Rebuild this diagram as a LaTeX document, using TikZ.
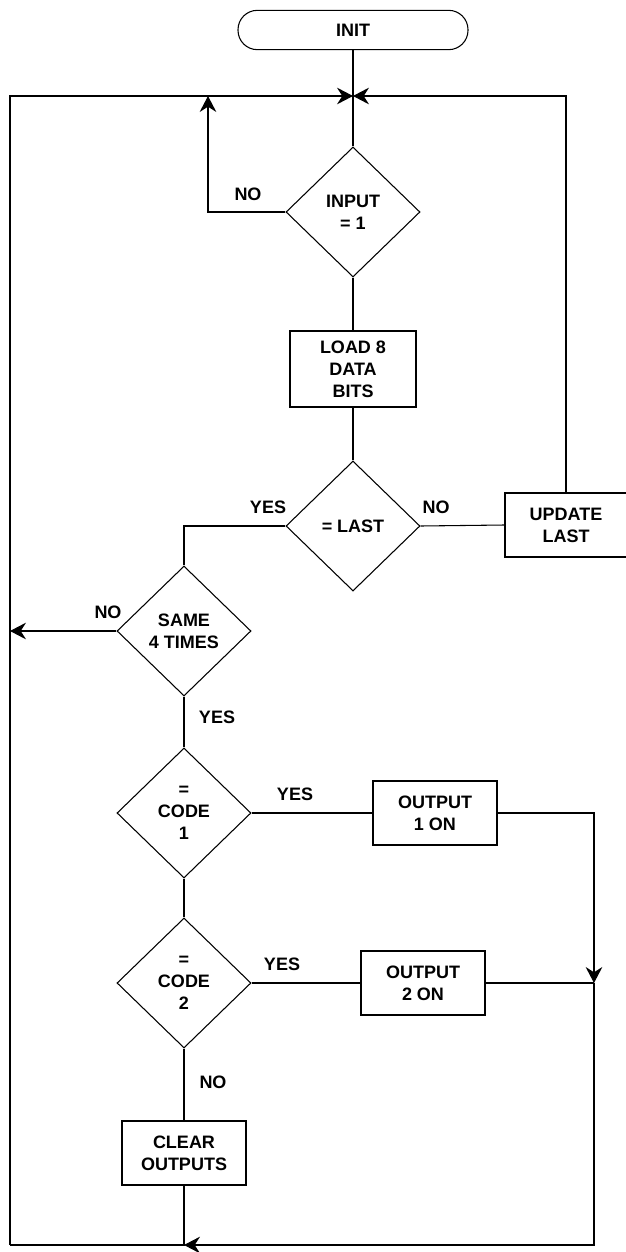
\documentclass[tikz,border=0pt]{standalone}
\usepackage{fontspec}
\setmainfont{Liberation Sans}
\usetikzlibrary{shapes.geometric,arrows.meta}
\begin{document}
\begin{tikzpicture}[x=0.75pt,y=-0.75pt,
  every node/.style={font=\fontsize{13.5}{16.5}\selectfont\bfseries, align=center},
  line/.style={line width=0.8pt},
  arr/.style={line width=0.8pt,-{Stealth[length=12pt,width=12.5pt,inset=4pt]}},
  decision/.style={draw, line width=0.8pt, diamond, aspect=1, inner sep=0pt, minimum width=100.5pt, minimum height=97.5pt},
  procbox/.style={draw, line width=0.8pt, rectangle, inner sep=0pt, minimum width=93pt, minimum height=48pt},
  terminal/.style={draw, line width=0.8pt, rectangle, rounded corners=14.5pt, minimum width=172.5pt, minimum height=29.5pt, inner sep=0pt},
  lbl/.style={inner sep=0pt}]
\useasboundingbox (0,0) rectangle (625,1252);
\fill[white] (0,0) rectangle (625,1252);
% nodes
\node[terminal] (init) at (353,30) {INIT};
\node[decision] (in1) at (353,212) {INPUT\\= 1};
\node[procbox, minimum width=94.5pt, minimum height=57pt] (load) at (353,369) {LOAD 8\\DATA\\BITS};
\node[decision] (last) at (353,526) {= LAST};
\node[procbox, minimum width=91.5pt] (upd) at (566,525) {UPDATE\\LAST};
\node[decision] (same) at (184,631) {SAME\\4 TIMES};
\node[decision] (c1) at (184,813) {=\\CODE\\1};
\node[decision] (c2) at (184,983) {=\\CODE\\2};
\node[procbox] (o1) at (435,813) {OUTPUT\\1 ON};
\node[procbox] (o2) at (423,983) {OUTPUT\\2 ON};
\node[procbox] (clr) at (184,1153) {CLEAR\\OUTPUTS};
% junction coordinates
\coordinate (tm) at (353,96);
\coordinate (tl) at (10,96);
\coordinate (bl) at (10,1245);
\coordinate (nl) at (208,96);
\coordinate (rj) at (594,983);
\coordinate (bm) at (184,1245);
% labels
\node[lbl] (l1) at (248,194) {NO};
\node[lbl] (l2) at (268,507) {YES};
\node[lbl] (l3) at (436,507) {NO};
\node[lbl] (l4) at (108,612) {NO};
\node[lbl] (l5) at (217,717) {YES};
\node[lbl] (l6) at (295,794) {YES};
\node[lbl] (l7) at (282,964) {YES};
\node[lbl] (l8) at (213,1082) {NO};
% connectors
\draw[line] (init) -- (in1);
\draw[arr] (bl) |- (tm);
\draw[arr] (upd.north) |- (tm);
\draw[arr] (in1.west) -| (nl);
\draw[line] (in1) -- (load);
\draw[line] (load) -- (last);
\draw[line] (last.east) -- (upd.west);
\draw[line] (last.west) -| (same.north);
\draw[arr] (same.west) -- (same.west -| bl);
\draw[line] (same) -- (c1);
\draw[line] (c1) -- (c2);
\draw[line] (c2) -- (clr);
\draw[line] (c1.east) -- (o1.west);
\draw[line] (c2.east) -- (o2.west);
\draw[arr] (o1.east) -| (rj);
\draw[line] (o2.east) -- (rj);
\draw[arr] (rj) |- (bm);
\draw[line] (clr.south) -- (bm) -- (bl);
\end{tikzpicture}
\end{document}
